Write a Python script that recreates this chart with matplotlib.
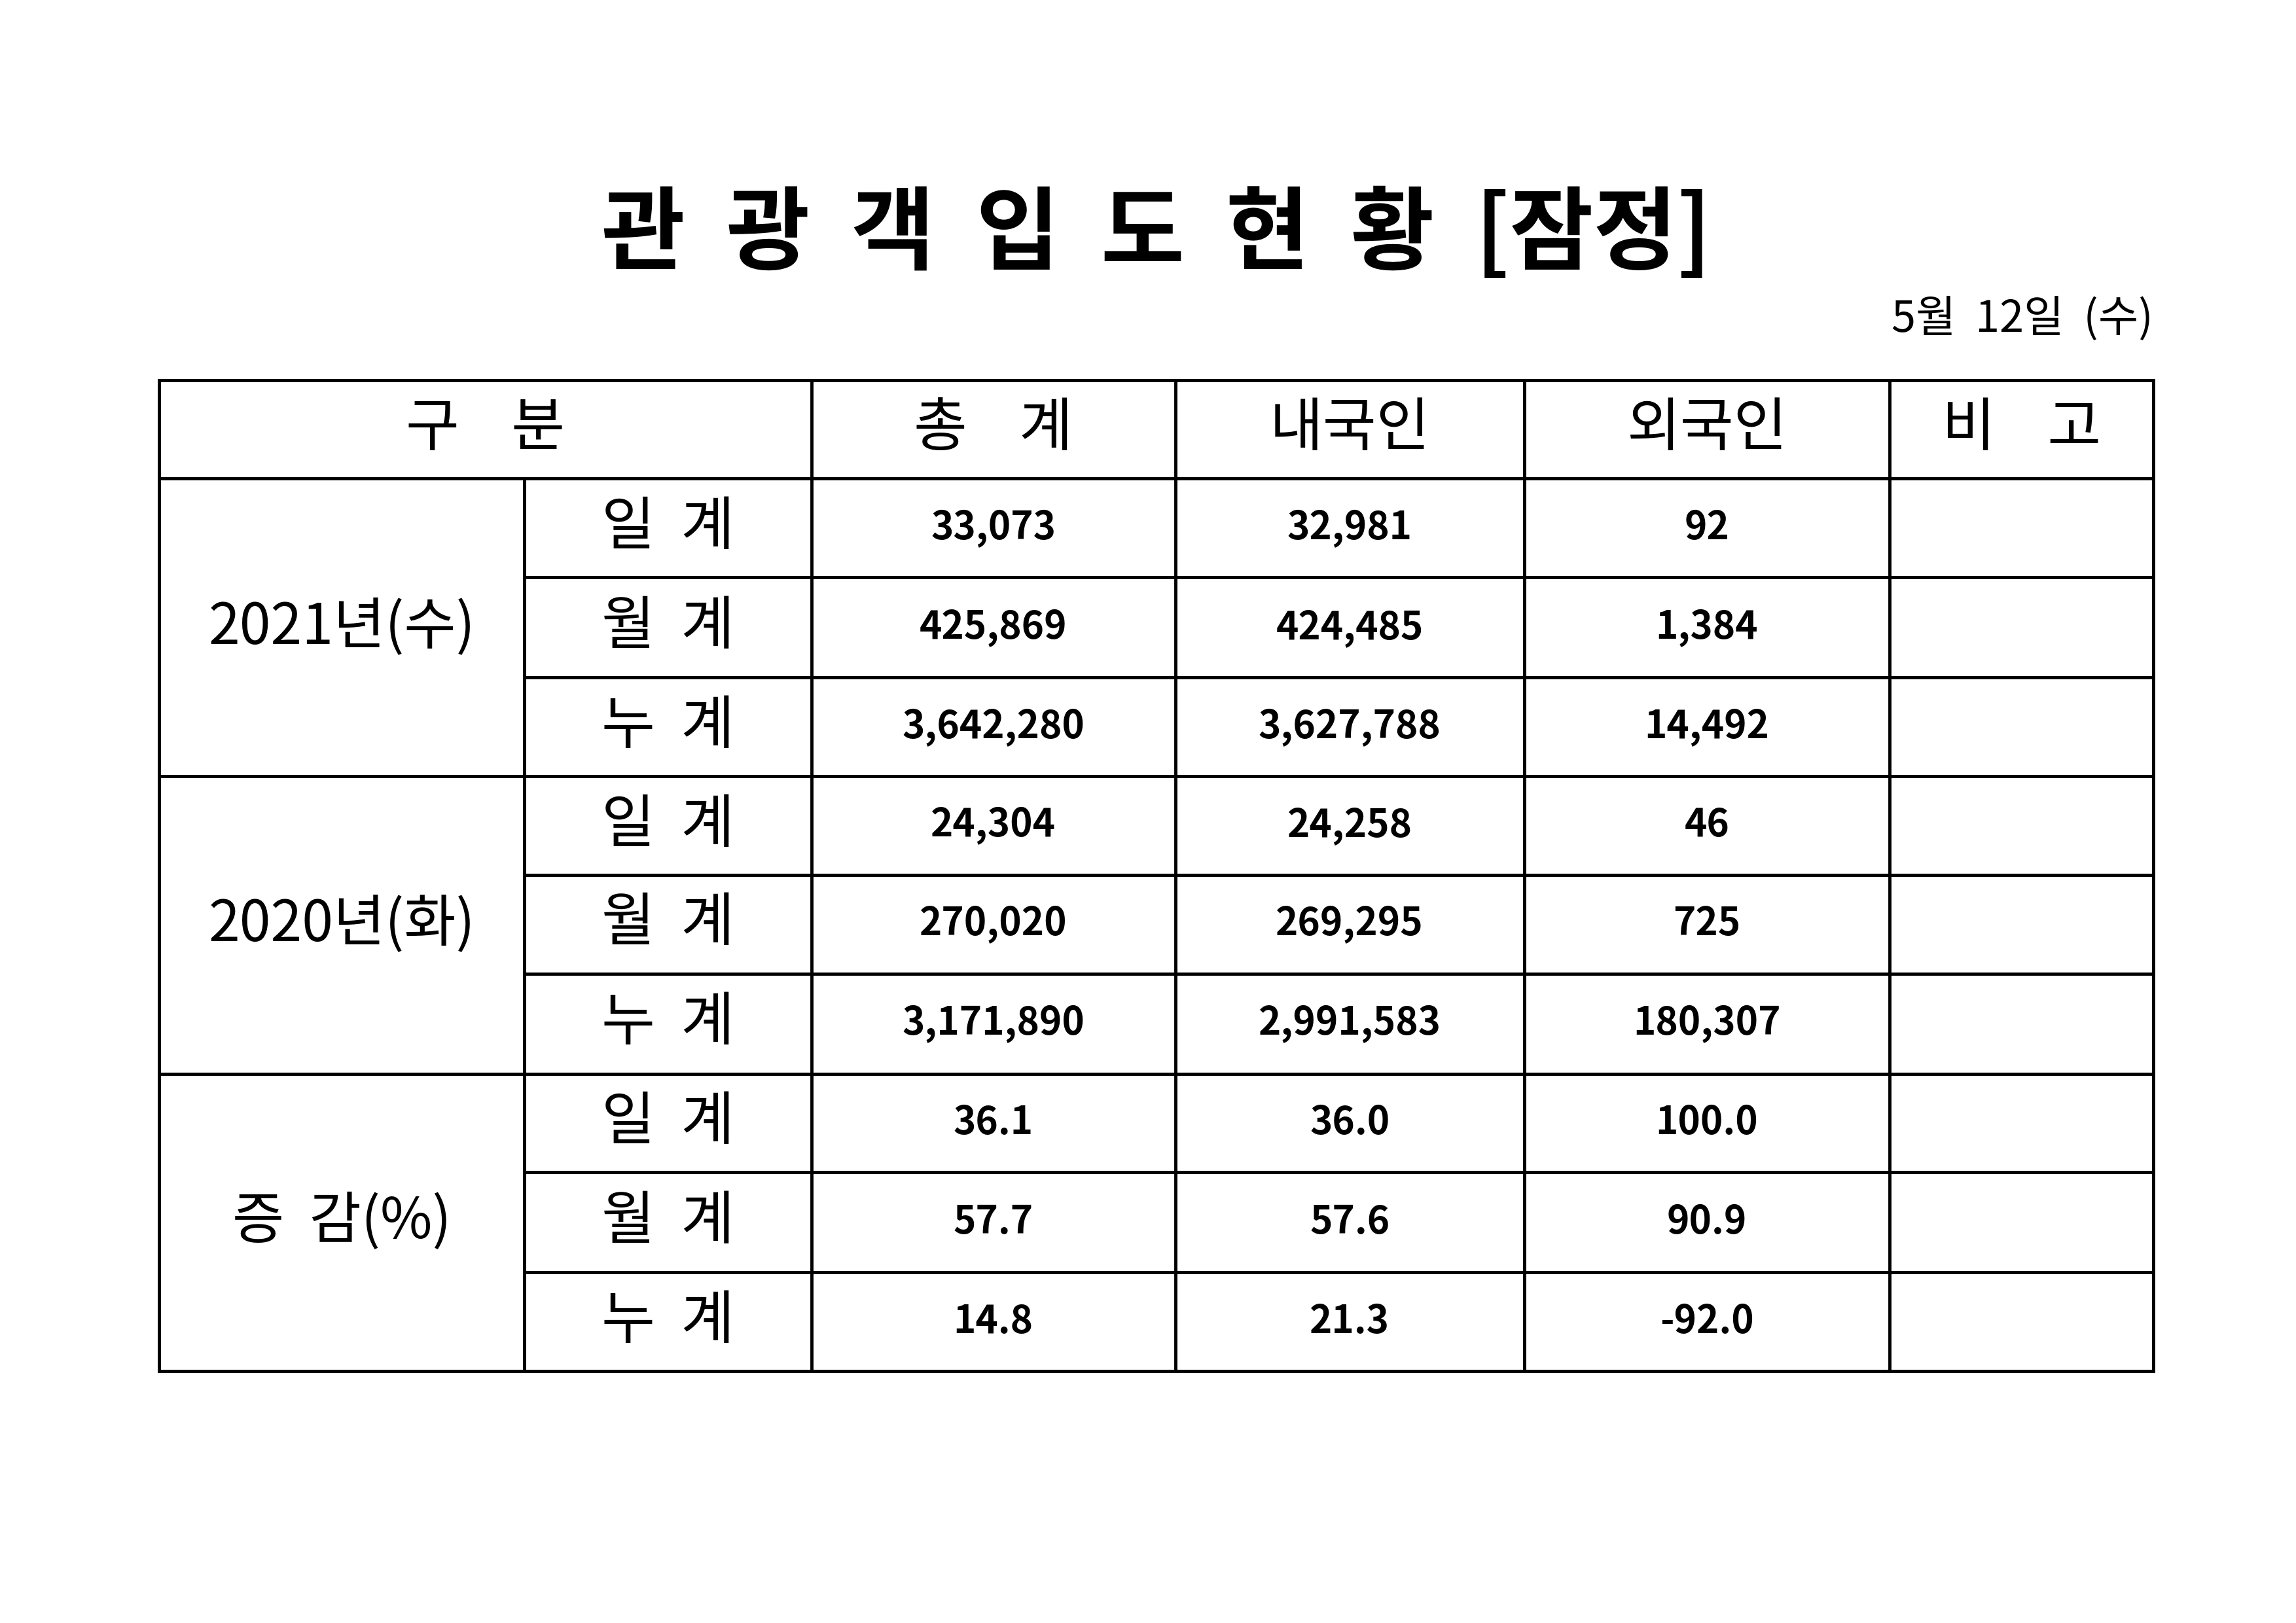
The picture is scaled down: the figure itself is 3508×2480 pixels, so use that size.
import matplotlib
matplotlib.use("Agg")
import matplotlib.pyplot as plt

plt.rcParams['font.family'] = ['Noto Sans CJK KR', 'DejaVu Sans']

title = "관  광  객  입  도  현  황  [잠정]"
date_label = "5월  12일  (수)"
headers = ["구    분", "총    계", "내국인", "외국인", "비    고"]
groups = ["2021년(수)", "2020년(화)", "증  감(%)"]
subrows = ["일  계", "월  계", "누  계"]
total = ["33,073", "425,869", "3,642,280", "24,304", "270,020", "3,171,890", "36.1", "57.7", "14.8"]
domestic = ["32,981", "424,485", "3,627,788", "24,258", "269,295", "2,991,583", "36.0", "57.6", "21.3"]
foreign = ["92", "1,384", "14,492", "46", "725", "180,307", "100.0", "90.9", "-92.0"]

fig = plt.figure(figsize=(35.08, 24.80), dpi=100)
ax = fig.add_axes([0, 0, 1, 1])
ax.set_xlim(0, 1559); ax.set_ylim(1102, 0); ax.axis('off')

xs = [108, 356, 551, 798, 1035, 1283, 1462]
ys = [258, 325, 392, 460, 527, 594, 661, 729, 796, 864, 931]
lw = 3.5
ax.plot([xs[0], xs[-1]], [ys[0], ys[0]], 'k', lw=lw)
ax.plot([xs[0], xs[-1]], [ys[1], ys[1]], 'k', lw=lw)
for i in range(2, 11):
    x0 = xs[0] if i in (4, 7, 10) else xs[1]
    ax.plot([x0, xs[-1]], [ys[i], ys[i]], 'k', lw=lw)
for j, x in enumerate(xs):
    y0 = ys[1] if j == 1 else ys[0]
    ax.plot([x, x], [y0, ys[-1]], 'k', lw=lw)

ax.text(785, 160, title, ha='center', va='center', fontsize=100, fontweight='bold')
ax.text(1462, 217, date_label, ha='right', va='center', fontsize=48)

hcx = [(xs[0] + xs[2]) / 2] + [(xs[k] + xs[k + 1]) / 2 for k in range(2, 6)]
for cx, h in zip(hcx, headers):
    ax.text(cx, (ys[0] + ys[1]) / 2, h, ha='center', va='center', fontsize=64)

for g in range(3):
    cy = (ys[1 + 3 * g] + ys[4 + 3 * g]) / 2
    ax.text((xs[0] + xs[1]) / 2, cy, groups[g], ha='center', va='center', fontsize=62)
    for s in range(3):
        r = 3 * g + s
        ry = (ys[1 + r] + ys[2 + r]) / 2
        ax.text((xs[1] + xs[2]) / 2, ry, subrows[s], ha='center', va='center', fontsize=64)
        for k, col in enumerate([total, domestic, foreign]):
            ax.text((xs[2 + k] + xs[3 + k]) / 2, ry, col[r], ha='center', va='center',
                    fontsize=42, fontweight='bold')

fig.savefig("out.png", dpi=100, facecolor='white')
